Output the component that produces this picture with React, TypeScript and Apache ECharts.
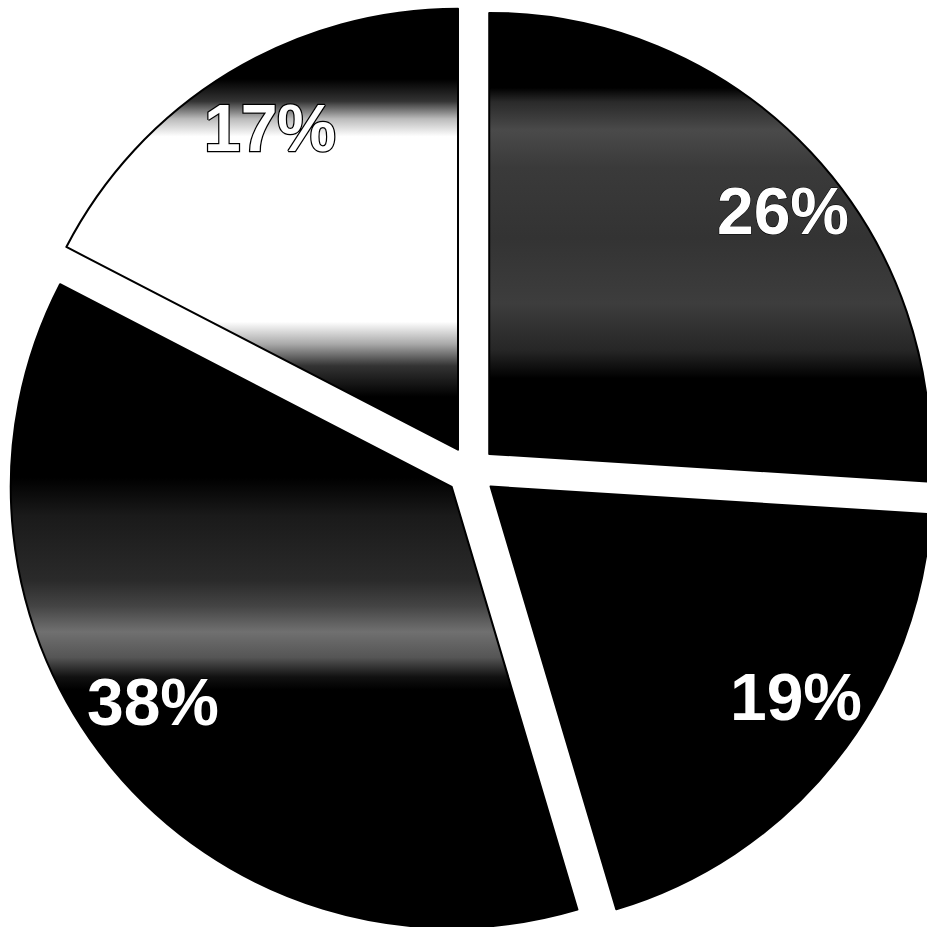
import React, { useEffect, useRef } from "react";
import * as echarts from "echarts";

const labels = ["26%", "19%", "38%", "17%"];
const values = [26, 19.4, 37.2, 17.4];
const labelFill = ["#ffffff", "#ffffff", "#ffffff", "#ffffff"];
const labelStroke = ["#000000", "#000000", "#000000", "#000000"];
const labelStrokeWidth = [1, 1, 1, 2.5];

const grad = (stops: [number, string][]) =>
  new echarts.graphic.LinearGradient(
    0, 0, 0, 1,
    stops.map(([offset, color]) => ({ offset, color }))
  );

const fills = [
  grad([
    [0, "#000"], [0.16, "#000"], [0.19, "#2a2a2a"], [0.25, "#4a4a4a"],
    [0.33, "#3a3a3a"], [0.48, "#333"], [0.62, "#3d3d3d"], [0.72, "#262626"],
    [0.78, "#000"], [1, "#000"],
  ]),
  "#000",
  grad([
    [0, "#000"], [0.3, "#000"], [0.36, "#1a1a1a"], [0.46, "#2a2a2a"],
    [0.5, "#444"], [0.54, "#707070"], [0.58, "#555"], [0.61, "#111"],
    [0.63, "#000"], [1, "#000"],
  ]),
  grad([
    [0, "#000"], [0.16, "#000"], [0.21, "#333"], [0.25, "#bbb"], [0.29, "#fff"],
    [0.71, "#fff"], [0.76, "#aaa"], [0.81, "#333"], [0.88, "#000"], [1, "#000"],
  ]),
];

const labelPos: [number, number][] = [
  [783, 211],
  [796, 697],
  [153, 702],
  [270, 128],
];

export default function App() {
  const ref = useRef<HTMLDivElement>(null);
  useEffect(() => {
    if (!ref.current) return;
    const chart = echarts.init(ref.current, undefined, { renderer: "svg" });
    chart.setOption({
      animation: false,
      backgroundColor: "#ffffff",
      series: [
        {
          type: "pie",
          center: [471, 471],
          radius: [0, 441],
          startAngle: 90,
          clockwise: true,
          selectedMode: "multiple",
          selectedOffset: 25,
          avoidLabelOverlap: false,
          emphasis: { disabled: true },
          label: { show: false },
          labelLine: { show: false },
          itemStyle: { borderColor: "#000", borderWidth: 2 },
          data: values.map((v, i) => ({
            value: v,
            name: labels[i],
            selected: true,
            itemStyle: { color: fills[i] },
          })),
        },
      ],
      graphic: labels.map((t, i) => ({
        type: "text",
        x: labelPos[i][0],
        y: labelPos[i][1],
        z: 100,
        style: {
          text: t,
          fill: labelFill[i],
          stroke: labelStroke[i],
          lineWidth: labelStrokeWidth[i],
          font: "bold 66px 'Liberation Sans', Arial, sans-serif",
          textAlign: "center",
          textVerticalAlign: "middle",
        },
      })),
    });
    return () => chart.dispose();
  }, []);
  return (
    <div
      ref={ref}
      style={{ position: "fixed", left: 0, top: 0, width: 927, height: 927 }}
    />
  );
}
